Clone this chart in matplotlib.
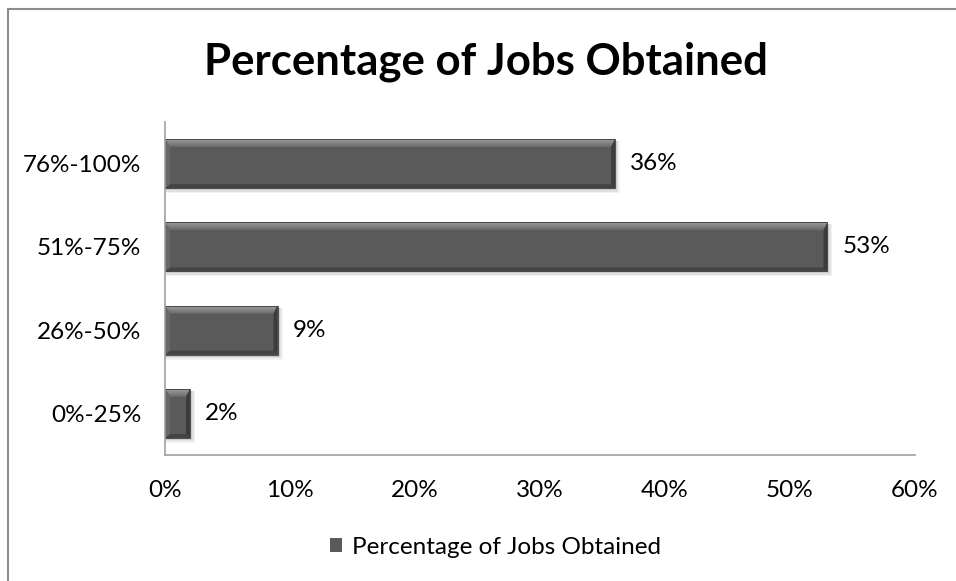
import matplotlib
matplotlib.use("Agg")
import numpy as np
import matplotlib.pyplot as plt
from matplotlib.colors import LinearSegmentedColormap
from matplotlib.patches import Polygon, Rectangle
from matplotlib.ticker import FuncFormatter, MultipleLocator


# Chart data.
categories = ["0%-25%", "26%-50%", "51%-75%", "76%-100%"]
job_share = [2, 9, 53, 36]
series_name = "Percentage of Jobs Obtained"
title_text = "Percentage of Jobs Obtained"

FACE = "#5a5a5a"
LEFT = "#686868"
RIGHT = "#3c3c3c"
BOTTOM = "#444444"
TOP_CMAP = LinearSegmentedColormap.from_list("top", ["#6a6a6a", "#9c9c9c"])

plt.rcParams["font.family"] = ["Lato", "DejaVu Sans"]


def add_bevel(ax, bar, top_px=8, left_px=5, right_px=4, bottom_px=4):
    # Fake Excel's bevel effect on top of a bar, in the bar's own data coords.
    x0, y0 = bar.get_x(), bar.get_y()
    w, h = bar.get_width(), bar.get_height()
    x1, y1 = x0 + w, y0 + h
    trans = ax.transData
    inv = trans.inverted()
    (dx0, dy0), (dx1, dy1) = trans.transform([(x0, y0), (x1, y1)])
    half_w = abs(dx1 - dx0) / 2
    lp, rp = min(left_px, half_w), min(right_px, half_w)
    (ix0, iy0), (ix1, iy1) = inv.transform([(dx0 + lp, dy0 + bottom_px),
                                            (dx1 - rp, dy1 - top_px)])

    # soft shadow under the bar
    for k, a in [(5, 0.05), (3.5, 0.07), (2, 0.09)]:
        (sx0, sy0), (sx1, sy1) = inv.transform([(dx0 + 1, dy0 - k), (dx1 + k, dy1 - 2)])
        ax.add_patch(Rectangle((sx0, sy0), sx1 - sx0, sy1 - sy0, facecolor="black",
                               edgecolor="none", alpha=a, zorder=1))

    top = Polygon([(x0, y1), (x1, y1), (ix1, iy1), (ix0, iy1)], closed=True,
                  facecolor="none", edgecolor="none", zorder=3)
    ax.add_patch(top)
    grad = np.linspace(0, 1, 32).reshape(-1, 1)
    img = ax.imshow(grad, cmap=TOP_CMAP, extent=(x0, x1, iy1, y1), origin="lower",
                    aspect="auto", zorder=3, interpolation="bilinear")
    img.set_clip_path(top)

    bottom = [(x0, y0), (x1, y0), (ix1, iy0), (ix0, iy0)]
    left = [(x0, y0), (x0, y1), (ix0, iy1), (ix0, iy0)]
    right = [(x1, y0), (x1, y1), (ix1, iy1), (ix1, iy0)]
    for pts, col in [(bottom, BOTTOM), (left, LEFT), (right, RIGHT)]:
        ax.add_patch(Polygon(pts, closed=True, facecolor=col, edgecolor="none", zorder=3))
    ax.add_patch(Rectangle((x0, y0), w, h, facecolor="none", edgecolor="#3a3a3a",
                           linewidth=0.6, zorder=4))


fig = plt.figure(figsize=(9.56, 5.81), dpi=100)
ax = fig.add_axes([0.1726, 0.2169, 0.7845, 0.5731])

positions = list(range(len(categories)))
bars = ax.barh(positions, job_share, height=0.59, color=FACE, zorder=2,
               label=series_name)

ax.set_xlim(0, 60)
ax.set_ylim(-0.5, len(categories) - 0.5)
ax.set_yticks(positions)
ax.set_yticklabels(categories)
ax.xaxis.set_major_locator(MultipleLocator(10))
ax.xaxis.set_major_formatter(FuncFormatter(lambda v, _: f"{v:.0f}%"))
ax.tick_params(axis="both", length=0, labelsize=17.5, colors="#000000")
ax.tick_params(axis="x", pad=18)
ax.tick_params(axis="y", pad=17)

for side in ["top", "right"]:
    ax.spines[side].set_visible(False)
for side in ["left", "bottom"]:
    ax.spines[side].set_color("#a0a0a0")
    ax.spines[side].set_linewidth(1.2)
    ax.spines[side].set_zorder(5)

fig.canvas.draw()
for bar in bars:
    add_bevel(ax, bar)
ax.set_xlim(0, 60)
ax.set_ylim(-0.5, len(categories) - 0.5)

for pos, val in zip(positions, job_share):
    ax.annotate(f"{val}%", xy=(val, pos), xytext=(11, 0), textcoords="offset points",
                va="center", ha="left", fontsize=17.5)

fig.text(0.508, 0.893, title_text, ha="center", va="center", fontsize=31.5,
         fontweight="bold")

leg = fig.legend(handles=[bars[0]], labels=[series_name], loc="center",
                 bbox_to_anchor=(0.518, 0.058), frameon=False, fontsize=17.5,
                 handlelength=0.5, handleheight=0.5, handletextpad=0.4)

# Outer chart frame (cropped on the right and bottom like the reference).
fig.add_artist(Rectangle((8 / 956, -0.1), 1.2, 1 - 9 / 581 + 0.1,
                         transform=fig.transFigure, facecolor="none",
                         edgecolor="#8c8c8c", linewidth=1.5))

fig.savefig("out.png", dpi=100)
